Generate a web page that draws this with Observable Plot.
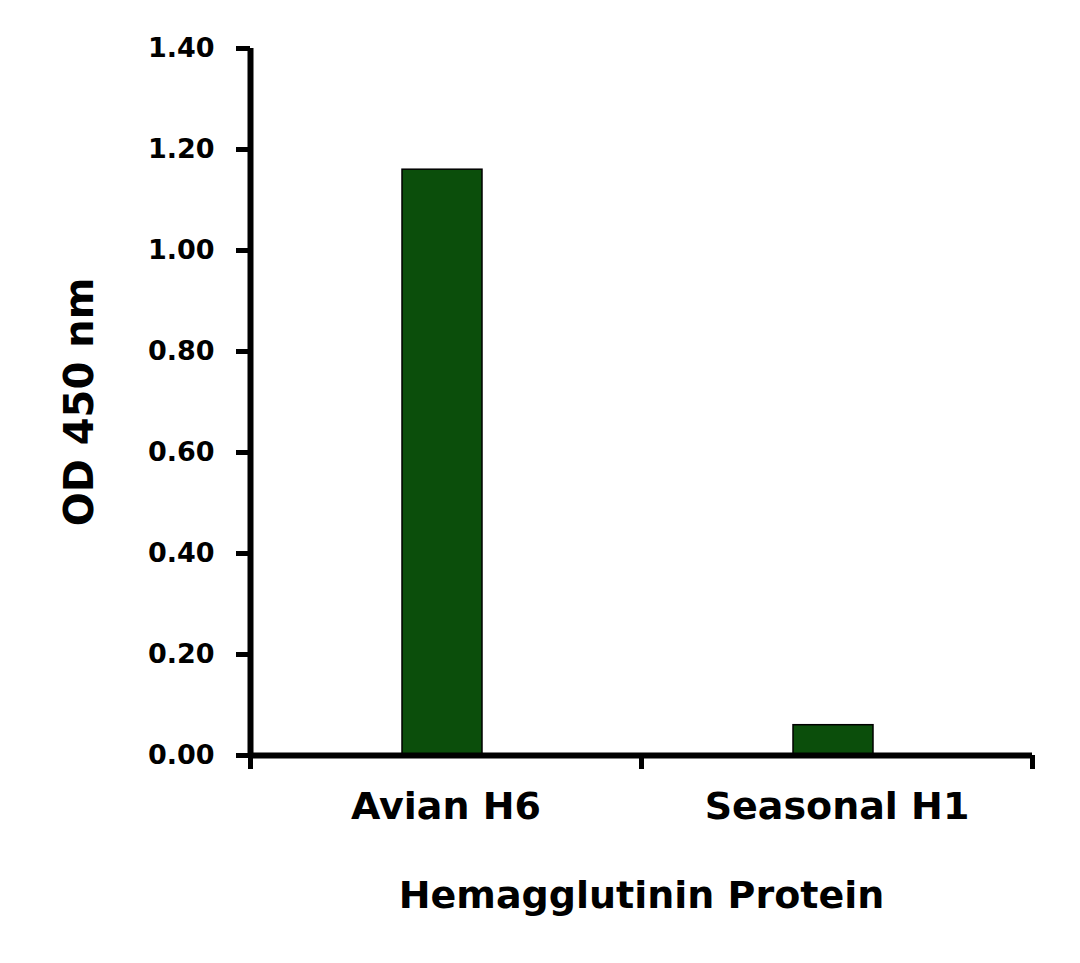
<!DOCTYPE html>
<html>
<head>
<meta charset="utf-8">
<script src="https://cdn.jsdelivr.net/npm/d3@7"></script>
<script src="https://cdn.jsdelivr.net/npm/@observablehq/plot@0.6"></script>
<style>
  html, body { margin: 0; padding: 0; background: #fff; }
</style>
</head>
<body>
<div id="chart"></div>
<script>
const categories = ["Avian H6", "Seasonal H1"];
const values = [1.16, 0.06];
const yTicks = [0, 0.2, 0.4, 0.6, 0.8, 1.0, 1.2, 1.4];
const yLabel = "OD 450 nm";
const xLabel = "Hemagglutinin Protein";

const data = categories.map((c, i) => ({category: c, index: i, value: values[i]}));
const xBoundaries = d3.range(categories.length + 1);

const chart = Plot.plot({
  width: 1080,
  height: 963,
  marginLeft: 250,
  marginRight: 48,
  marginTop: 48,
  marginBottom: 208,
  style: {fontFamily: "DejaVu Sans", fontWeight: "bold", fontSize: "27px", color: "#000", background: "#fff"},
  x: {domain: [0, categories.length], axis: null},
  y: {domain: [0, 1.4], axis: null},
  marks: [
    Plot.rectY(data, {
      x1: d => d.index,
      x2: d => d.index + 1,
      y: "value",
      insetLeft: 152,
      insetRight: 159,
      fill: "#0b4e0b",
      stroke: "#000",
      strokeWidth: 1.5
    }),
    Plot.axisY({
      ticks: yTicks,
      tickFormat: d3.format(".2f"),
      tickSize: 14,
      tickPadding: 22,
      strokeWidth: 5,
      label: null,
      fontSize: 27,
      fontWeight: "bold"
    }),
    Plot.axisX({
      ticks: xBoundaries,
      tickFormat: () => "",
      tickSize: 14,
      strokeWidth: 5,
      label: null
    }),
    Plot.ruleX([0], {stroke: "#000", strokeWidth: 6}),
    Plot.ruleY([0], {stroke: "#000", strokeWidth: 6}),
    Plot.text(data, {
      x: d => d.index + 0.5,
      frameAnchor: "bottom",
      dy: 63,
      text: "category",
      fontSize: 38,
      fontWeight: "bold",
      fill: "#000"
    }),
    Plot.text([xLabel], {
      frameAnchor: "bottom",
      dy: 152,
      text: d => d,
      fontSize: 38,
      fontWeight: "bold",
      fill: "#000",
      style: "letter-spacing: 0.5px"
    }),
    Plot.text([yLabel], {
      frameAnchor: "left",
      textAnchor: "middle",
      dx: -170,
      rotate: -90,
      text: d => d,
      fontSize: 40,
      fontWeight: "bold",
      fill: "#000"
    })
  ]
});
document.getElementById("chart").appendChild(chart);
</script>
</body>
</html>
